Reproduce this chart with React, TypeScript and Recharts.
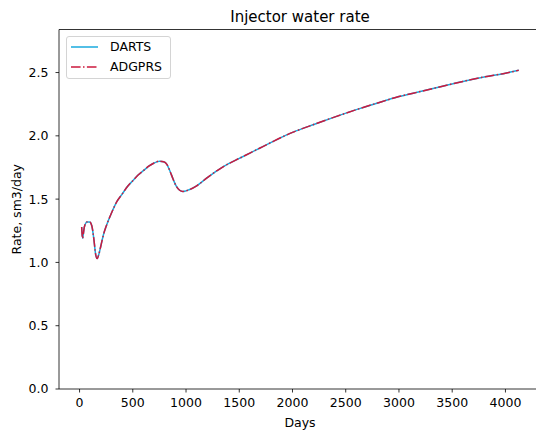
import React from 'react';
import { LineChart, Line, XAxis, YAxis, Legend, Label } from 'recharts';

// Simulation time (days)
const days = [
  20, 28, 45, 70, 95, 115, 135, 150, 165, 180, 200, 225, 250, 300, 350, 400, 450, 500,
  550, 600, 650, 700, 750, 790, 820, 850, 880, 910, 940, 970, 1000, 1100, 1200, 1300,
  1400, 1500, 1600, 1700, 1800, 1900, 2000, 2200, 2400, 2600, 2800, 3000, 3200, 3400,
  3600, 3800, 4000, 4125,
];

// Injector water rate, sm3/day (DARTS)
const dartsRate = [
  1.28, 1.19, 1.28, 1.32, 1.32, 1.29, 1.18, 1.07, 1.03, 1.06, 1.13, 1.22, 1.285, 1.39,
  1.48, 1.54, 1.6, 1.645, 1.69, 1.725, 1.76, 1.785, 1.8, 1.795, 1.775, 1.72, 1.655, 1.6,
  1.57, 1.56, 1.565, 1.605, 1.67, 1.73, 1.78, 1.822, 1.864, 1.906, 1.948, 1.99, 2.027, 2.09,
  2.15, 2.207, 2.26, 2.31, 2.35, 2.39, 2.43, 2.465, 2.495, 2.518,
];

// Injector water rate, sm3/day (ADGPRS)
const adgprsRate = [
  1.28, 1.19, 1.28, 1.32, 1.32, 1.29, 1.18, 1.07, 1.03, 1.06, 1.13, 1.22, 1.285, 1.39,
  1.48, 1.54, 1.6, 1.645, 1.69, 1.725, 1.76, 1.785, 1.8, 1.795, 1.775, 1.72, 1.655, 1.6,
  1.57, 1.56, 1.565, 1.605, 1.67, 1.73, 1.78, 1.822, 1.864, 1.906, 1.948, 1.99, 2.027, 2.09,
  2.15, 2.207, 2.26, 2.31, 2.35, 2.39, 2.43, 2.465, 2.495, 2.518,
];

const xTicks = [0, 500, 1000, 1500, 2000, 2500, 3000, 3500, 4000];
const yTicks = [0, 0.5, 1.0, 1.5, 2.0, 2.5];
const seriesNames = ['DARTS', 'ADGPRS'];
const titleText = 'Injector water rate';
const xLabelText = 'Days';
const yLabelText = 'Rate, sm3/day';

const data = days.map((d, i) => ({ day: d, darts: dartsRate[i], adgprs: adgprsRate[i] }));

const FONT = '"DejaVu Sans", "Noto Sans", sans-serif';
const CYAN = '#1aaade';
const RED = '#cc1a3e';
const DASHDOT = '9.6 2.4 1.5 2.4';
const X_DOMAIN: [number, number] = [-193, 4334];
const Y_DOMAIN: [number, number] = [0, 2.84];

const tickStyle = { fill: '#000', fontSize: 12.5, fontFamily: FONT };

function LegendBox() {
  const row = (color: string, dash: string | undefined, name: string) => (
    <div key={name} style={{ display: 'flex', alignItems: 'center', height: 20 }}>
      <svg width={27} height={4} style={{ display: 'block' }}>
        <line x1={0} y1={2} x2={27} y2={2} stroke={color} strokeWidth={1.5} strokeDasharray={dash} />
      </svg>
      <span style={{ marginLeft: 12 }}>{name}</span>
    </div>
  );
  return (
    <div
      style={{
        border: '1px solid #d4d4d4',
        borderRadius: 3,
        background: 'rgba(255,255,255,0.8)',
        padding: '0px 8px 1px 4px',
        fontFamily: FONT,
        fontSize: 12.5,
        color: '#000',
        lineHeight: '20px',
        whiteSpace: 'nowrap',
      }}
    >
      {row(CYAN, undefined, seriesNames[0])}
      {row(RED, DASHDOT, seriesNames[1])}
    </div>
  );
}

export default function App() {
  return (
    <div
      style={{
        position: 'absolute',
        left: 0,
        top: 0,
        width: 536,
        height: 431,
        overflow: 'hidden',
        background: '#fff',
      }}
    >
      <LineChart width={560} height={431} data={data} margin={{ top: 0, right: 19, bottom: 0, left: 0 }}>
        <XAxis
          xAxisId="top"
          orientation="top"
          dataKey="day"
          type="number"
          domain={X_DOMAIN}
          allowDataOverflow
          height={29.5}
          tick={false}
          tickLine={false}
          axisLine={{ stroke: '#000', strokeWidth: 0.8 }}
        >
          <Label
            content={(props: any) => {
              const vb = props.viewBox || {};
              return (
                <text
                  x={vb.x + vb.width / 2}
                  y={17}
                  textAnchor="middle"
                  dominantBaseline="central"
                  fontFamily={FONT}
                  fontSize={15}
                  fill="#000"
                >
                  {titleText}
                </text>
              );
            }}
          />
        </XAxis>
        <XAxis
          dataKey="day"
          type="number"
          domain={X_DOMAIN}
          allowDataOverflow
          ticks={xTicks}
          height={42}
          tickSize={3.5}
          tickMargin={6}
          tick={tickStyle}
          tickLine={{ stroke: '#000', strokeWidth: 0.8 }}
          axisLine={{ stroke: '#000', strokeWidth: 0.8 }}
        >
          <Label
            content={(props: any) => {
              const vb = props.viewBox || {};
              return (
                <text
                  x={vb.x + vb.width / 2}
                  y={422}
                  textAnchor="middle"
                  dominantBaseline="central"
                  fontFamily={FONT}
                  fontSize={12.5}
                  fill="#000"
                >
                  {xLabelText}
                </text>
              );
            }}
          />
        </XAxis>
        <YAxis
          type="number"
          domain={Y_DOMAIN}
          allowDataOverflow
          ticks={yTicks}
          width={59}
          tickSize={3.5}
          tickMargin={7}
          tick={tickStyle}
          tickFormatter={(v: number) => v.toFixed(1)}
          tickLine={{ stroke: '#000', strokeWidth: 0.8 }}
          axisLine={{ stroke: '#000', strokeWidth: 0.8 }}
        >
          <Label
            content={(props: any) => {
              const vb = props.viewBox || {};
              const cx = 16;
              const cy = vb.y + vb.height / 2;
              return (
                <text
                  x={cx}
                  y={cy}
                  transform={`rotate(-90, ${cx}, ${cy})`}
                  textAnchor="middle"
                  dominantBaseline="central"
                  fontFamily={FONT}
                  fontSize={12.5}
                  fill="#000"
                >
                  {yLabelText}
                </text>
              );
            }}
          />
        </YAxis>
        <Legend
          layout="vertical"
          align="center"
          verticalAlign="middle"
          content={() => <LegendBox />}
          wrapperStyle={{ left: 66, top: 36, width: 'auto', height: 'auto' }}
        />
        <Line
          type="monotone"
          dataKey="darts"
          name={seriesNames[0]}
          stroke={CYAN}
          strokeWidth={1.5}
          dot={false}
          activeDot={false}
          isAnimationActive={false}
        />
        <Line
          type="monotone"
          dataKey="adgprs"
          name={seriesNames[1]}
          stroke={RED}
          strokeWidth={1.5}
          strokeDasharray={DASHDOT}
          dot={false}
          activeDot={false}
          isAnimationActive={false}
        />
      </LineChart>
    </div>
  );
}
